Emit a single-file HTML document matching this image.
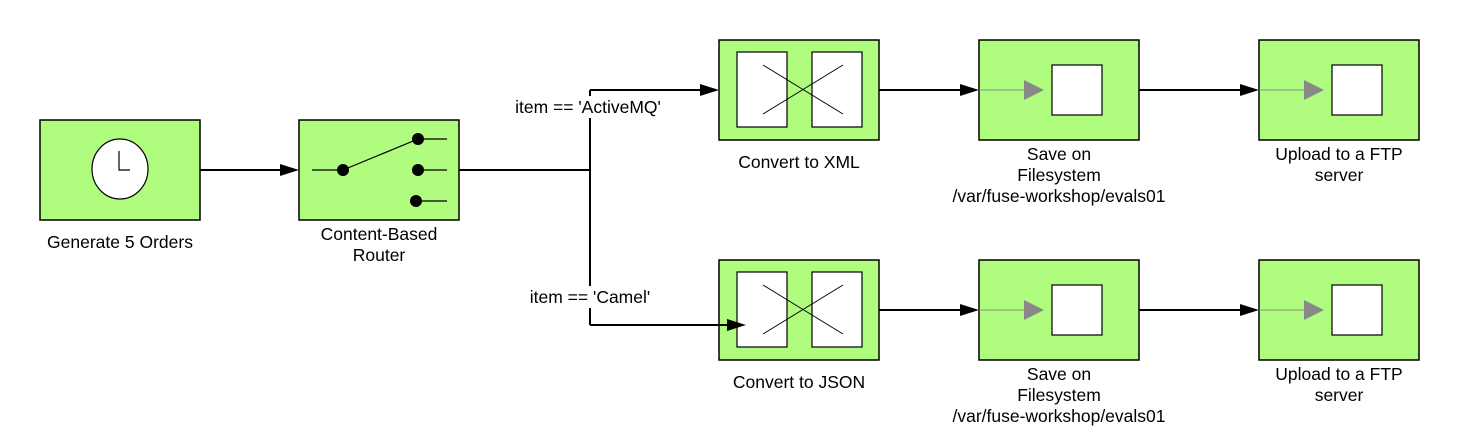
<!DOCTYPE html>
<html><head><meta charset="utf-8"><style>
body{margin:0;background:#fff}
svg{display:block}
text{font-family:"Liberation Sans",sans-serif;font-size:17.5px;fill:#000;text-anchor:middle}
</style></head><body>
<svg width="1460" height="445" viewBox="0 0 1460 445">
<g stroke="#000" stroke-width="2" fill="none">
<line x1="200" y1="170" x2="280" y2="170"/>
<polygon points="280,164 299,170 280,176" fill="#000" stroke="none"/>
<polyline points="459,170 590,170"/>
<polyline points="590,90 590,325"/>
<line x1="590" y1="90" x2="700" y2="90"/>
<polygon points="700,84 719,90 700,96" fill="#000" stroke="none"/>
<line x1="590" y1="325" x2="727" y2="325"/>
<line x1="879" y1="90" x2="960" y2="90"/><polygon points="960,84 979,90 960,96" fill="#000" stroke="none"/>
<line x1="879" y1="310" x2="960" y2="310"/><polygon points="960,304 979,310 960,316" fill="#000" stroke="none"/>
<line x1="1139" y1="90" x2="1240" y2="90"/><polygon points="1240,84 1259,90 1240,96" fill="#000" stroke="none"/>
<line x1="1139" y1="310" x2="1240" y2="310"/><polygon points="1240,304 1259,310 1240,316" fill="#000" stroke="none"/>
</g>
<rect x="506" y="96" width="164" height="22" fill="#fff"/>
<text x="588" y="113">item == 'ActiveMQ'</text>
<rect x="524" y="286" width="132" height="22" fill="#fff"/>
<text x="590" y="303">item == 'Camel'</text>

<g>
<rect x="40" y="120" width="160" height="100" fill="#b0fc7f" stroke="#000" stroke-width="1.5"/>
<ellipse cx="120" cy="169" rx="28" ry="30" fill="#fff" stroke="#000" stroke-width="1.2"/>
<polyline points="119,151 119,170 130,170" fill="none" stroke="#000" stroke-width="1.2"/>
<text x="120" y="248">Generate 5 Orders</text>
</g>
<g>
<rect x="299" y="120" width="160" height="100" fill="#b0fc7f" stroke="#000" stroke-width="1.5"/>
<g stroke="#000" stroke-width="1.2">
<line x1="312" y1="170" x2="343" y2="170"/><line x1="343" y1="170" x2="418" y2="139"/>
<line x1="418" y1="139" x2="447" y2="139"/><line x1="418" y1="170" x2="447" y2="170"/><line x1="416" y1="201" x2="447" y2="201"/>
</g>
<circle cx="343" cy="170" r="6"/><circle cx="418" cy="139" r="6"/><circle cx="418" cy="170" r="6"/><circle cx="416" cy="201" r="6"/>
<text x="379" y="240">Content-Based</text><text x="379" y="261">Router</text>
</g>

<g>
<rect x="719" y="40" width="160" height="100" fill="#b0fc7f" stroke="#000" stroke-width="1.5"/>
<rect x="737" y="52" width="50" height="75" fill="#fff" stroke="#000" stroke-width="1.2"/>
<rect x="812" y="52" width="50" height="75" fill="#fff" stroke="#000" stroke-width="1.2"/>
<line x1="763" y1="65" x2="843" y2="114" stroke="#000" stroke-width="1"/><line x1="763" y1="114" x2="843" y2="65" stroke="#000" stroke-width="1"/>
<text x="799" y="168">Convert to XML</text>
</g>
<g>
<rect x="719" y="260" width="160" height="100" fill="#b0fc7f" stroke="#000" stroke-width="1.5"/>
<rect x="737" y="272" width="50" height="75" fill="#fff" stroke="#000" stroke-width="1.2"/>
<rect x="812" y="272" width="50" height="75" fill="#fff" stroke="#000" stroke-width="1.2"/>
<line x1="763" y1="285" x2="843" y2="334" stroke="#000" stroke-width="1"/><line x1="763" y1="334" x2="843" y2="285" stroke="#000" stroke-width="1"/>
<line x1="719" y1="325" x2="728" y2="325" stroke="#000" stroke-width="2"/>
<polygon points="727,319 746,325 727,331" fill="#000"/>
<text x="799" y="388">Convert to JSON</text>
</g>

<g>
<rect x="979" y="40" width="160" height="100" fill="#b0fc7f" stroke="#000" stroke-width="1.5"/>
<line x1="979" y1="90" x2="1026" y2="90" stroke="#888" stroke-width="1"/><polygon points="1024,80 1044,90 1024,100" fill="#888"/>
<rect x="1052" y="65" width="50" height="50" fill="#fff" stroke="#000" stroke-width="1.2"/>
<text x="1059" y="160">Save on</text><text x="1059" y="181">Filesystem</text><text x="1059" y="202">/var/fuse-workshop/evals01</text>
</g>
<g>
<rect x="979" y="260" width="160" height="100" fill="#b0fc7f" stroke="#000" stroke-width="1.5"/>
<line x1="979" y1="310" x2="1026" y2="310" stroke="#888" stroke-width="1"/><polygon points="1024,300 1044,310 1024,320" fill="#888"/>
<rect x="1052" y="285" width="50" height="50" fill="#fff" stroke="#000" stroke-width="1.2"/>
<text x="1059" y="380">Save on</text><text x="1059" y="401">Filesystem</text><text x="1059" y="422">/var/fuse-workshop/evals01</text>
</g>
<g>
<rect x="1259" y="40" width="160" height="100" fill="#b0fc7f" stroke="#000" stroke-width="1.5"/>
<line x1="1259" y1="90" x2="1306" y2="90" stroke="#888" stroke-width="1"/><polygon points="1304,80 1324,90 1304,100" fill="#888"/>
<rect x="1332" y="65" width="50" height="50" fill="#fff" stroke="#000" stroke-width="1.2"/>
<text x="1339" y="160">Upload to a FTP</text><text x="1339" y="181">server</text>
</g>
<g>
<rect x="1259" y="260" width="160" height="100" fill="#b0fc7f" stroke="#000" stroke-width="1.5"/>
<line x1="1259" y1="310" x2="1306" y2="310" stroke="#888" stroke-width="1"/><polygon points="1304,300 1324,310 1304,320" fill="#888"/>
<rect x="1332" y="285" width="50" height="50" fill="#fff" stroke="#000" stroke-width="1.2"/>
<text x="1339" y="380">Upload to a FTP</text><text x="1339" y="401">server</text>
</g>
</svg>
</body></html>
